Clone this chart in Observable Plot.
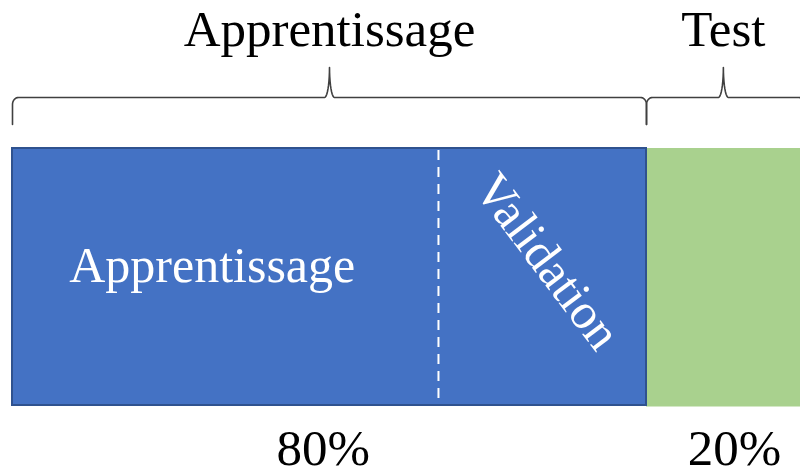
<!DOCTYPE html>
<html>
<head>
<meta charset="utf-8">
<script src="https://cdn.jsdelivr.net/npm/d3@7"></script>
<script src="https://cdn.jsdelivr.net/npm/@observablehq/plot@0.6"></script>
<style>
  html, body { margin: 0; padding: 0; background: #ffffff; }
  #chart svg { display: block; overflow: visible; }
</style>
</head>
<body>
<div id="chart"></div>
<script>
// ---- data (percent of the data set) ----
const segmentNames = ["Apprentissage + Validation", "Test"];
const segmentStart = [0, 80];
const segmentEnd = [80, 100];
const segmentColors = ["#4472C4", "#A9D18E"];
const validationSplit = [53.75];           // boundary between training and validation
const braceNames = ["Apprentissage", "Test"];
const braceStart = [0, 80];
const braceEnd = [80, 100];
const braceTip = [40, 89.7];
const percentLabels = ["80%", "20%"];
const percentPos = [39.2, 91.1];
const innerLabels = ["Apprentissage", "Validation"];
const innerPos = [25.2, 67.5];

// ---- layout ----
const W = 800, H = 470;
const X0 = 12, X1 = 804.5;
const pxPerUnit = (X1 - X0) / 100;
const barTop = 148, barBottom = 405;
const braceBarY = 97, braceEndY = 124, braceTipY = 67;

const segments = segmentNames.map((name, i) => ({name, x1: segmentStart[i], x2: segmentEnd[i], fill: segmentColors[i]}));

// brace outline points (x in data units)
function bracePoints(name, a, b, m) {
  const u = px => px / pxPerUnit;
  const pts = [];
  const endR = 6, endH = 7, tipR = 5;
  const n = 10;
  pts.push({x: a, y: braceEndY});
  for (let k = 0; k <= n; k++) {
    const phi = (Math.PI / 2) * (1 - k / n);
    pts.push({x: a + u(endR - endR * Math.sin(phi)), y: braceBarY + endH * (1 - Math.cos(phi))});
  }
  for (let k = 0; k <= n; k++) {
    const phi = (Math.PI / 2) * (k / n);
    pts.push({x: m - u(tipR) + u(tipR * Math.sin(phi)), y: braceTipY + (braceBarY - braceTipY) * Math.cos(phi)});
  }
  for (let k = n; k >= 0; k--) {
    const phi = (Math.PI / 2) * (k / n);
    pts.push({x: m + u(tipR) - u(tipR * Math.sin(phi)), y: braceTipY + (braceBarY - braceTipY) * Math.cos(phi)});
  }
  for (let k = 0; k <= n; k++) {
    const phi = (Math.PI / 2) * (k / n);
    pts.push({x: b - u(endR - endR * Math.sin(phi)), y: braceBarY + endH * (1 - Math.cos(phi))});
  }
  pts.push({x: b, y: braceEndY});
  return pts.map(p => ({...p, brace: name}));
}
const braceData = braceNames.flatMap((name, i) => bracePoints(name, braceStart[i], braceEnd[i], braceTip[i]));

const serif = "'Liberation Serif', 'Times New Roman', serif";

const chart = Plot.plot({
  width: W,
  height: H,
  margin: 0,
  x: {domain: [0, 100], range: [X0, X1], axis: null},
  y: {type: "identity", axis: null},
  style: {background: "#ffffff", overflow: "visible"},
  marks: [
    Plot.rect(segments.slice(1), {x1: "x1", x2: "x2", y1: barTop, y2: barBottom + 1.5, fill: "fill"}),
    Plot.rect(segments.slice(0, 1), {x1: "x1", x2: "x2", y1: barTop, y2: barBottom, fill: "fill", stroke: "#2F528F", strokeWidth: 2}),
    Plot.ruleX(validationSplit, {y1: barTop + 2, y2: barBottom - 1, stroke: "#ffffff", strokeWidth: 2, strokeDasharray: "10,7"}),
    Plot.line(braceData, {x: "x", y: "y", z: "brace", stroke: "#404040", strokeWidth: 1.6, curve: "linear"}),
    Plot.text(braceNames, {x: (d, i) => braceTip[i], y: 45, text: d => d, fill: "#000000", fontSize: 51, fontFamily: serif, lineAnchor: "bottom", textAnchor: "middle"}),
    Plot.text(innerLabels.slice(0, 1), {x: (d, i) => innerPos[i], y: 281, text: d => d, fill: "#ffffff", fontSize: 50, fontFamily: serif, lineAnchor: "bottom", textAnchor: "middle"}),
    Plot.text(innerLabels.slice(1), {x: (d, i) => innerPos[1 + i], y: 261, text: d => d, fill: "#ffffff", fontSize: 50, fontFamily: serif, lineAnchor: "middle", textAnchor: "middle", rotate: 53}),
    Plot.text(percentLabels, {x: (d, i) => percentPos[i], y: 464, text: d => d, fill: "#000000", fontSize: 51, fontFamily: serif, lineAnchor: "bottom", textAnchor: "middle"})
  ]
});
document.getElementById("chart").appendChild(chart);
</script>
</body>
</html>
